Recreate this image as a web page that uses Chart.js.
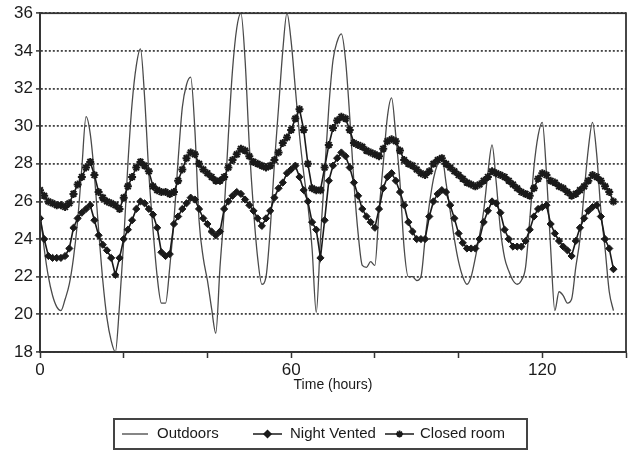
<!DOCTYPE html>
<html><head><meta charset="utf-8">
<script src="https://cdn.jsdelivr.net/npm/chart.js@4/dist/chart.umd.min.js"></script>
<style>html,body{margin:0;padding:0;background:#fff}#wrap{width:634px;height:452px;position:relative}</style>
</head><body><div id="wrap"><canvas id="c" width="634" height="452"></canvas></div>
<script>
const hours=[0,1,2,3,4,5,6,7,8,9,10,11,12,13,14,15,16,17,18,19,20,21,22,23,24,25,26,27,28,29,30,31,32,33,34,35,36,37,38,39,40,41,42,43,44,45,46,47,48,49,50,51,52,53,54,55,56,57,58,59,60,61,62,63,64,65,66,67,68,69,70,71,72,73,74,75,76,77,78,79,80,81,82,83,84,85,86,87,88,89,90,91,92,93,94,95,96,97,98,99,100,101,102,103,104,105,106,107,108,109,110,111,112,113,114,115,116,117,118,119,120,121,122,123,124,125,126,127,128,129,130,131,132,133,134,135,136,137];
const outdoors=[25.5,23.5,22.0,21.0,20.4,20.2,20.8,21.6,23.0,25.0,
27.8,30.5,29.6,27.4,24.5,21.8,19.8,18.6,18.0,20.5,
23.9,28.0,31.2,33.2,34.1,31.5,27.5,24.5,22.0,20.6,
20.6,22.5,25.0,28.2,31.0,32.2,32.6,29.8,25.0,23.0,
21.8,20.3,19.0,22.5,25.5,29.5,33.0,35.2,36.0,33.5,
29.0,25.6,23.0,21.6,22.0,24.5,28.0,31.0,34.0,36.0,
34.5,32.0,29.5,27.5,25.8,23.5,20.1,24.0,27.5,31.0,
33.5,34.5,34.9,33.5,30.5,27.0,24.3,22.6,22.5,22.8,
22.6,25.5,28.0,30.5,31.5,29.5,27.0,23.5,22.0,22.0,
21.8,22.0,24.0,25.8,27.2,28.0,28.4,27.0,25.5,24.0,
22.8,22.0,21.6,22.0,23.0,24.2,25.5,27.5,29.0,27.0,
24.5,23.0,22.3,21.8,21.6,21.8,22.5,25.0,27.8,29.5,
30.2,27.5,23.5,20.2,21.2,21.0,20.6,20.8,22.5,24.0,
26.5,28.8,30.2,28.5,25.5,23.5,21.2,20.2];
const nightVented=[25.1,24.0,23.1,23.0,23.0,23.0,23.1,23.5,24.6,25.1,
25.4,25.6,25.8,25.0,24.2,23.7,23.4,23.0,22.1,23.0,
24.0,24.5,25.0,25.6,26.0,25.9,25.6,25.3,24.6,23.3,
23.1,23.2,24.8,25.2,25.6,25.9,26.2,26.1,25.6,25.1,
24.8,24.4,24.2,24.4,25.6,26.0,26.3,26.5,26.4,26.1,
25.8,25.5,25.1,24.7,25.1,25.5,26.2,26.7,27.0,27.5,
27.7,27.9,27.3,26.6,26.0,24.9,24.5,23.0,25.0,27.1,
27.9,28.3,28.6,28.4,27.8,27.0,26.3,25.6,25.2,24.9,
24.6,25.6,26.7,27.3,27.5,27.1,26.5,25.8,24.9,24.4,
24.0,24.0,24.0,25.2,26.0,26.4,26.6,26.5,25.8,25.1,
24.3,23.8,23.5,23.5,23.5,24.0,24.9,25.5,26.0,25.9,
25.4,24.5,24.0,23.6,23.6,23.6,23.9,24.5,25.2,25.6,
25.7,25.8,24.8,24.3,23.9,23.6,23.4,23.1,23.9,24.6,
25.1,25.5,25.7,25.8,25.2,24.0,23.5,22.4];
const closedRoom=[26.6,26.3,26.0,25.9,25.8,25.8,25.7,25.9,26.4,26.9,
27.3,27.8,28.1,27.4,26.5,26.2,26.0,25.9,25.8,25.6,
26.2,26.8,27.3,27.8,28.1,27.9,27.6,26.8,26.6,26.5,
26.5,26.4,26.5,27.1,27.7,28.3,28.6,28.5,28.0,27.7,
27.5,27.3,27.1,27.1,27.3,27.8,28.2,28.5,28.8,28.7,
28.4,28.1,28.0,27.9,27.8,27.9,28.2,28.6,29.1,29.4,
29.8,30.4,30.9,29.8,28.0,26.7,26.6,26.6,27.8,29.0,
29.9,30.3,30.5,30.4,29.8,29.1,29.0,28.9,28.7,28.6,
28.5,28.4,28.8,29.2,29.3,29.2,28.7,28.2,28.0,27.9,
27.7,27.5,27.4,27.6,28.0,28.2,28.3,28.0,27.8,27.6,
27.4,27.2,27.0,26.9,26.8,26.9,27.1,27.3,27.6,27.5,
27.4,27.3,27.1,26.9,26.7,26.5,26.4,26.3,26.7,27.2,
27.5,27.4,27.1,27.0,26.8,26.7,26.5,26.3,26.4,26.6,
26.8,27.1,27.4,27.3,27.1,26.8,26.5,26.0];
const xLabelTicks=[0,60,120];
const seriesNames=['Outdoors','Night Vented','Closed room'];
const xTitle='Time (hours)';

const FONT='"Liberation Sans", Arial, sans-serif';
const toPts=arr=>hours.map((h,i)=>({x:h,y:arr[i]}));

const framePlugin={id:'frame',afterDraw(chart){
  const a=chart.chartArea,ctx=chart.ctx;
  ctx.save();ctx.strokeStyle='#333';ctx.lineWidth=1.8;
  ctx.strokeRect(a.left,a.top,a.right-a.left,a.bottom-a.top);
  ctx.restore();
}};

const legendPlugin={id:'boxLegend',afterDraw(chart){
  const ctx=chart.ctx;ctx.save();
  ctx.strokeStyle='#444';ctx.lineWidth=2;
  ctx.strokeRect(114,419,413,30);
  const y=434;
  ctx.font='15px '+FONT;ctx.fillStyle='#1a1a1a';ctx.textBaseline='middle';ctx.textAlign='left';
  ctx.strokeStyle='#444';ctx.lineWidth=1.3;
  ctx.beginPath();ctx.moveTo(122,y);ctx.lineTo(148,y);ctx.stroke();
  ctx.fillText(seriesNames[0],157,y);
  ctx.strokeStyle='#1a1a1a';ctx.lineWidth=1.5;
  ctx.beginPath();ctx.moveTo(253,y);ctx.lineTo(282,y);ctx.stroke();
  Chart.helpers.drawPoint(ctx,{pointStyle:'rectRot',radius:3.5,rotation:0,borderWidth:1},267.5,y);
  ctx.fillText(seriesNames[1],290,y);
  ctx.beginPath();ctx.moveTo(385,y);ctx.lineTo(414,y);ctx.stroke();
  ctx.lineWidth=1.8;
  Chart.helpers.drawPoint(ctx,{pointStyle:'star',radius:3.5,rotation:0,borderWidth:1.8},399.5,y);
  ctx.fillText(seriesNames[2],420,y);
  ctx.restore();
}};

new Chart(document.getElementById('c'),{
  type:'line',
  data:{datasets:[
    {label:seriesNames[0],data:toPts(outdoors),borderColor:'#4a4a4a',borderWidth:1.3,pointRadius:0,cubicInterpolationMode:'monotone',order:3},
    {label:seriesNames[1],data:toPts(nightVented),borderColor:'#1a1a1a',backgroundColor:'#1a1a1a',borderWidth:1.6,pointStyle:'rectRot',pointRadius:3.6,pointBorderWidth:1,pointBackgroundColor:'#1a1a1a',pointBorderColor:'#1a1a1a',order:2},
    {label:seriesNames[2],data:toPts(closedRoom),borderColor:'#1a1a1a',backgroundColor:'#1a1a1a',borderWidth:1.6,pointStyle:'star',pointRadius:4,pointBorderWidth:2,pointBorderColor:'#1a1a1a',order:1}
  ]},
  options:{
    responsive:false,devicePixelRatio:1,animation:false,
    layout:{padding:{left:0,top:12,right:8,bottom:54}},
    plugins:{legend:{display:false},tooltip:{enabled:false}},
    scales:{
      x:{type:'linear',min:0,max:140,
        ticks:{stepSize:20,autoSkip:false,maxRotation:0,color:'#1a1a1a',font:{family:FONT,size:17},padding:2,
          callback:v=>xLabelTicks.includes(v)?String(v):''},
        grid:{drawOnChartArea:false,drawTicks:true,tickLength:6,tickColor:'#333',tickWidth:1.5},
        border:{color:'#333',width:1.8},
        title:{display:true,text:xTitle,color:'#1a1a1a',font:{family:FONT,size:14},padding:{top:2,bottom:4}},
        afterFit:s=>{s.height=46;}
      },
      y:{min:18,max:36,
        ticks:{stepSize:2,color:'#1a1a1a',font:{family:FONT,size:17},padding:3},
        grid:{color:'#444',lineWidth:1.8,tickLength:4,tickColor:'#333',tickWidth:1.5},
        border:{color:'#333',width:1.8,dash:[2,2]},
        afterFit:s=>{s.width=40;}
      }
    }
  },
  plugins:[framePlugin,legendPlugin]
});
</script></body></html>
